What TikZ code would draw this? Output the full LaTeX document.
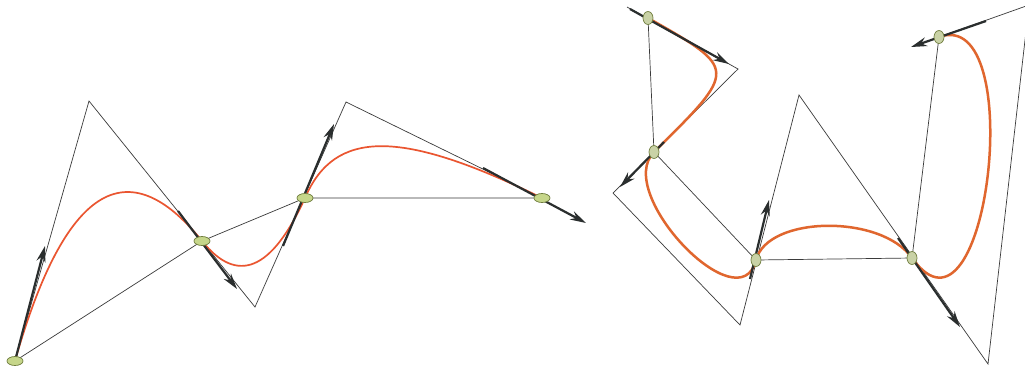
\documentclass[tikz,border=0pt]{standalone}
\usetikzlibrary{calc,arrows.meta,shapes.geometric}
\definecolor{polyc}{HTML}{3A3A3A}
\definecolor{redL}{HTML}{EA5530}
\definecolor{redR}{HTML}{E0662E}
\definecolor{arrc}{HTML}{2A2E2E}
\definecolor{ptfillL}{HTML}{C6D68A}
\definecolor{ptfillR}{HTML}{C9D2A6}
\definecolor{ptdraw}{HTML}{6E7C3C}
\tikzset{
  poly/.style={draw=polyc,line width=0.7pt},
  curveL/.style={draw=redL,line width=1.7pt},
  curveR/.style={draw=redR,line width=2.5pt},
  tanarrow/.style={draw=arrc,line width=2.2pt,-{Stealth[length=16pt,width=9pt]}},
  ptL/.style={ellipse,draw=ptdraw,fill=ptfillL,line width=0.7pt,minimum width=16pt,minimum height=9pt,inner sep=0pt},
  ptR/.style={ellipse,draw=ptdraw,fill=ptfillR,line width=0.7pt,minimum width=10pt,minimum height=13pt,inner sep=0pt}
}
\begin{document}
\begin{tikzpicture}[x=1pt,y=-1pt]
\useasboundingbox (0,0) rectangle (1025,373);
\clip (0,0) rectangle (1025,373);
\fill[white] (0,0) rectangle (1025,373);
% ---------- left figure ----------
\coordinate (P0) at (15,361);
\coordinate (A) at (89,101);
\coordinate (P1) at (202,241);
\coordinate (B) at (255,307);
\coordinate (P2) at (305,198);
\coordinate (C) at (346,102);
\coordinate (P3) at (542,198);
\draw[poly] (P0) -- (A) -- (B) -- (C) -- (P3);
\draw[poly] (P0) -- (P1) -- (P2) -- (P3);
\draw[curveL] (P0) .. controls ($(P0)!2/3!(A)$) and ($(P1)!2/3!(A)$) .. (P1)
  .. controls ($(P1)!2/3!(B)$) and ($(P2)!2/3!(B)$) .. (P2)
  .. controls ($(P2)!0.72!(C)$) and ($(P3)!0.72!(C)$) .. (P3);
\coordinate (a0e) at (45,246);
\coordinate (a1s) at (178,211);
\coordinate (a1e) at (237,289);
\coordinate (a2s) at (283,246);
\coordinate (a2e) at (334,124);
\coordinate (a3s) at (483,168);
\coordinate (a3e) at (586,223);
\draw[tanarrow] (P0) -- (a0e);
\draw[tanarrow] (a1s) -- (a1e);
\draw[tanarrow] (a2s) -- (a2e);
\draw[tanarrow] (a3s) -- (a3e);
\node[ptL] (m0) at (P0) {};
\node[ptL] (m1) at (P1) {};
\node[ptL] (m2) at (P2) {};
\node[ptL] (m3) at (P3) {};
% ---------- right figure ----------
\coordinate (T0) at (627,7);
\coordinate (Q0) at (648,18);
\coordinate (C0) at (738,69);
\coordinate (Q1) at (654,152);
\coordinate (D1) at (613,193);
\coordinate (D2) at (740,325);
\coordinate (Q2) at (756,260);
\coordinate (E) at (799,95);
\coordinate (Q3) at (912,258);
\coordinate (F1) at (988,364);
\coordinate (F2) at (1029,5);
\coordinate (Q4) at (939,37);
\draw[poly] (T0) -- (C0) -- (D1) -- (D2) -- (E) -- (F1) -- (F2) -- (Q4);
\draw[poly] (Q0) -- (Q1) -- (Q2) -- (Q3) -- (Q4);
\draw[curveR] (Q0) .. controls (C0) and (C0) .. (Q1)
  .. controls (D1) and (D2) .. (Q2)
  .. controls ($(Q2)!0.27!(E)$) and ($(Q3)!0.27!(E)$) .. (Q3)
  .. controls (F1) and (F2) .. (Q4);
\coordinate (b0s) at (630,9);
\coordinate (b0e) at (729,64);
\coordinate (b1s) at (664,142);
\coordinate (b1e) at (620,187);
\coordinate (b2s) at (750,279);
\coordinate (b2e) at (769,200);
\coordinate (b3s) at (898,238);
\coordinate (b3e) at (960,327);
\coordinate (b4s) at (986,21);
\coordinate (b4e) at (911,47);
\draw[tanarrow] (b0s) -- (b0e);
\draw[tanarrow] (b1s) -- (b1e);
\draw[tanarrow] (b2s) -- (b2e);
\draw[tanarrow] (b3s) -- (b3e);
\draw[tanarrow] (b4s) -- (b4e);
\node[ptR] (n0) at (Q0) {};
\node[ptR] (n1) at (Q1) {};
\node[ptR] (n2) at (Q2) {};
\node[ptR] (n3) at (Q3) {};
\node[ptR] (n4) at (Q4) {};
\end{tikzpicture}
\end{document}
